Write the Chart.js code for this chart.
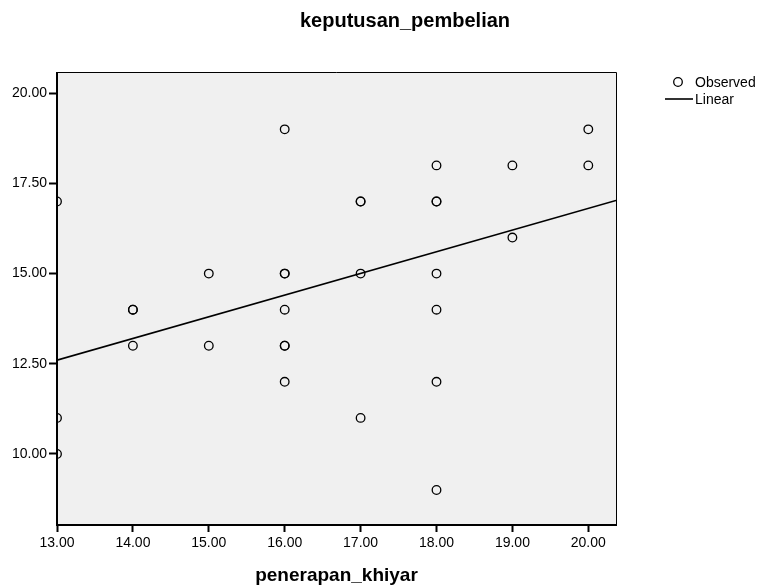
<!DOCTYPE html>
<html>
<head>
<meta charset="utf-8">
<script src="https://cdn.jsdelivr.net/npm/chart.js@4/dist/chart.umd.min.js"></script>
<style>
html,body{margin:0;padding:0;background:#fff;}
#wrap{width:760px;height:587px;position:relative;}
</style>
</head>
<body>
<div id="wrap"><canvas id="c" width="760" height="587"></canvas></div>
<script>
// Data
const chartTitle = "keputusan_pembelian";
const xTitle = "penerapan_khiyar";
const obsX = [13,13,13,14,14,14,15,15,16,16,16,16,16,16,16,17,17,17,17,18,18,18,18,18,18,18,19,19,20,20];
const obsY = [17,11,10,14,14,13,15,13,19,15,15,14,13,13,12,17,17,15,11,18,17,17,15,14,12,9,18,16,19,18];
const fitX = [13, 20.365];
const fitY = [12.60, 17.03];
const xTicks = [13,14,15,16,17,18,19,20];
const yTicks = [10,12.5,15,17.5,20];
const legendLabels = ["Observed","Linear"];

const FONT = "'Liberation Sans', Arial, sans-serif";

const frame = {
  id: 'frame',
  beforeDraw(chart){
    const {ctx, chartArea:a} = chart;
    ctx.save();
    ctx.fillStyle = '#f0f0f0';
    ctx.fillRect(a.left, a.top, a.right-a.left, a.bottom-a.top);
    ctx.restore();
  },
  afterDraw(chart){
    const {ctx, chartArea:a} = chart;
    ctx.save();
    ctx.strokeStyle = '#000';
    ctx.lineWidth = 1;
    ctx.beginPath();
    ctx.moveTo(a.left, a.top+0.5); ctx.lineTo(a.right+0.5, a.top+0.5);
    ctx.lineTo(a.right+0.5, a.bottom);
    ctx.stroke();
    ctx.lineWidth = 2;
    ctx.beginPath();
    ctx.moveTo(a.left, a.top); ctx.lineTo(a.left, a.bottom); ctx.lineTo(a.right+1, a.bottom);
    ctx.stroke();
    ctx.fillStyle = '#000';
    ctx.textAlign = 'center';
    ctx.textBaseline = 'alphabetic';
    ctx.font = 'bold 20px ' + FONT;
    ctx.fillText(chartTitle, 405, 27);
    ctx.font = 'bold 19px ' + FONT;
    ctx.fillText(xTitle, (a.left+a.right)/2, 581);
    ctx.font = '14px ' + FONT;
    ctx.textAlign = 'left';
    ctx.textBaseline = 'middle';
    ctx.lineWidth = 1.3;
    ctx.beginPath();
    ctx.arc(678, 82, 4.3, 0, Math.PI*2);
    ctx.stroke();
    ctx.fillText(legendLabels[0], 695, 83);
    ctx.lineWidth = 1.6;
    ctx.beginPath();
    ctx.moveTo(665, 99); ctx.lineTo(693, 99);
    ctx.stroke();
    ctx.fillText(legendLabels[1], 695, 100);
    ctx.restore();
  }
};

new Chart(document.getElementById('c'), {
  type: 'scatter',
  data: {
    datasets: [
      {
        label: legendLabels[0],
        data: obsX.map((x,i)=>({x:x, y:obsY[i]})),
        pointStyle: 'circle',
        pointRadius: 4.3,
        pointBorderWidth: 1.3,
        pointBorderColor: '#000',
        pointBackgroundColor: 'rgba(0,0,0,0)',
        showLine: false,
        clip: 0,
        order: 1
      },
      {
        type: 'line',
        label: legendLabels[1],
        data: fitX.map((x,i)=>({x:x, y:fitY[i]})),
        borderColor: '#000',
        borderWidth: 1.6,
        pointRadius: 0,
        fill: false,
        tension: 0,
        clip: 0,
        order: 0
      }
    ]
  },
  options: {
    responsive: false,
    animation: false,
    devicePixelRatio: 1,
    layout: { padding: { left: 0, top: 72, right: 144, bottom: 0 } },
    plugins: {
      legend: { display: false },
      title: { display: false },
      tooltip: { enabled: false }
    },
    scales: {
      x: {
        type: 'linear',
        min: 13,
        max: 20.365,
        afterFit(s){ s.height = 62; },
        afterBuildTicks(s){ s.ticks = xTicks.map(v=>({value:v})); },
        grid: { drawOnChartArea: false, drawTicks: true, tickLength: 7, tickWidth: 2, tickColor: '#000' },
        border: { display: false },
        ticks: {
          padding: 3,
          color: '#000',
          font: { family: FONT, size: 14 },
          maxRotation: 0,
          autoSkip: false,
          callback: v => Number(v).toFixed(2)
        }
      },
      y: {
        type: 'linear',
        min: 8.03,
        max: 20.59,
        afterFit(s){ s.width = 57; },
        afterBuildTicks(s){ s.ticks = yTicks.map(v=>({value:v})); },
        grid: { drawOnChartArea: false, drawTicks: true, tickLength: 8, tickWidth: 2, tickColor: '#000' },
        border: { display: false },
        ticks: {
          padding: 2,
          color: '#000',
          font: { family: FONT, size: 14 },
          autoSkip: false,
          callback: v => Number(v).toFixed(2)
        }
      }
    }
  },
  plugins: [frame]
});
</script>
</body>
</html>
